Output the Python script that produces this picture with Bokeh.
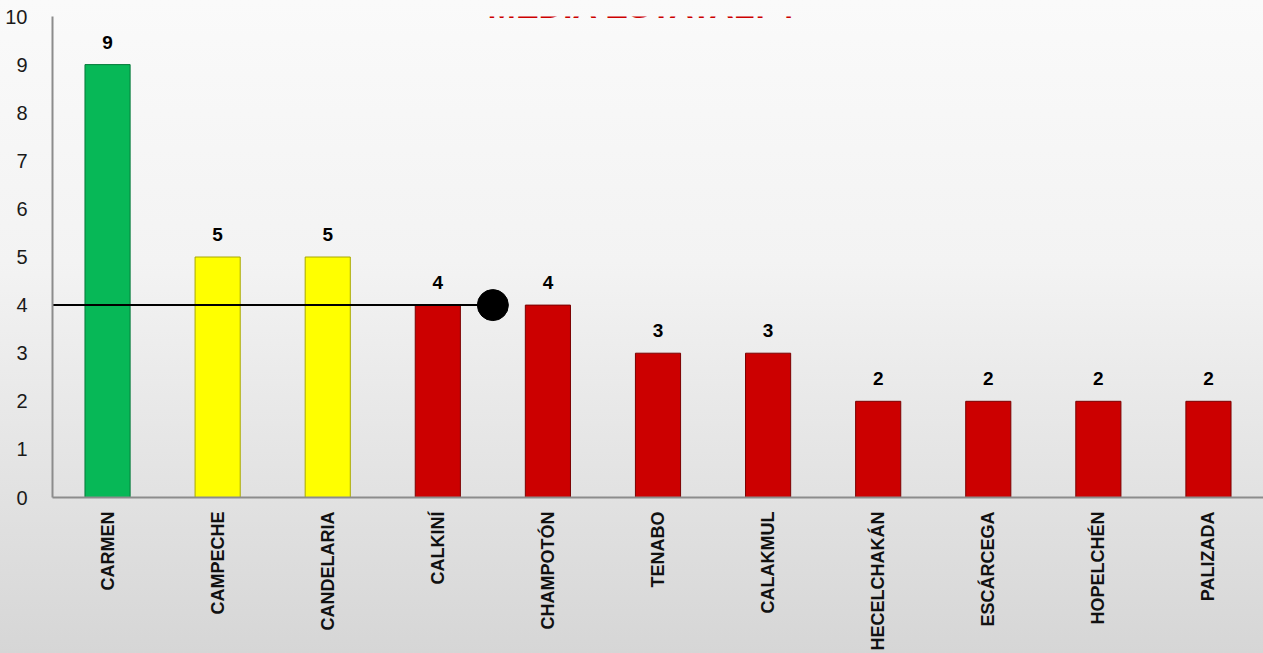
import math
from bokeh.plotting import figure
from bokeh.models import FactorRange, Range1d, Label, ColumnDataSource, FixedTicker
from bokeh.embed import file_html
from bokeh.resources import INLINE
from bokeh.core.properties import value

# ---- data ----
municipios = ["CARMEN", "CAMPECHE", "CANDELARIA", "CALKINÍ", "CHAMPOTÓN", "TENABO",
              "CALAKMUL", "HECELCHAKÁN", "ESCÁRCEGA", "HOPELCHÉN", "PALIZADA"]
valores = [9, 5, 5, 4, 4, 3, 3, 2, 2, 2, 2]
colores = ["#07b857", "#ffff00", "#ffff00", "#cc0000", "#cc0000", "#cc0000",
           "#cc0000", "#cc0000", "#cc0000", "#cc0000", "#cc0000"]
bordes = ["#057a3a", "#a8a800", "#a8a800", "#7a0000", "#7a0000", "#7a0000",
          "#7a0000", "#7a0000", "#7a0000", "#7a0000", "#7a0000"]
media_estatal = 4
titulo = "MEDIA ESTATAL: 4"
y_ticks = [0, 1, 2, 3, 4, 5, 6, 7, 8, 9, 10]

FONT = "Liberation Sans"

src = ColumnDataSource(dict(
    municipio=municipios,
    valor=valores,
    etiqueta=[str(v) for v in valores],
    color=colores,
    borde=bordes,
))

p = figure(
    x_range=FactorRange(factors=municipios, range_padding=0),
    y_range=Range1d(0, 10),
    width=1263, height=653,
    output_backend="svg", toolbar_location=None,
    min_border_left=52, min_border_right=0, min_border_top=16, min_border_bottom=156,
    background_fill_alpha=0, border_fill_alpha=0, outline_line_color=None,
)
p.styles = {"background": "linear-gradient(#fafafa 0%, #f3f3f3 40%, #d6d6d6 100%)"}

p.vbar(x="municipio", top="valor", width=0.41, source=src,
       fill_color="color", line_color="borde", line_width=1)

p.text(x="municipio", y="valor", text="etiqueta", source=src,
       y_offset=-16, text_align="center", text_baseline="bottom",
       text_font=value(FONT), text_font_style="bold", text_font_size="19px",
       text_color="#000000")

# media estatal line with marker
p.line(x=[(municipios[0], -0.5), (municipios[3], 0.5)],
       y=[media_estatal, media_estatal], line_color="black", line_width=2)
p.scatter(x=[(municipios[3], 0.5)], y=[media_estatal], size=31,
          fill_color="black", line_color="black")

p.grid.visible = False

p.xaxis.major_label_orientation = math.pi / 2
p.xaxis.major_label_text_font = FONT
p.xaxis.major_label_text_font_style = "bold"
p.xaxis.major_label_text_font_size = "18px"
p.xaxis.major_label_text_color = "#111111"
p.xaxis.major_label_standoff = 8
p.xaxis.major_tick_line_color = None
p.xaxis.minor_tick_line_color = None
p.xaxis.axis_line_color = "#8c8c8c"
p.xaxis.axis_line_width = 2

p.yaxis.ticker = FixedTicker(ticks=y_ticks)
p.yaxis.major_label_text_font = FONT
p.yaxis.major_label_text_font_size = "20px"
p.yaxis.major_label_text_color = "#1a1a1a"
p.yaxis.major_label_standoff = 19
p.yaxis.major_tick_line_color = None
p.yaxis.minor_tick_line_color = None
p.yaxis.axis_line_color = "#8c8c8c"
p.yaxis.axis_line_width = 2

p.add_layout(Label(x=641, y=5, x_units="canvas", y_units="canvas", text=titulo,
                   text_align="center", text_baseline="alphabetic",
                   text_color="#cc0000", text_font=FONT, text_font_style="bold",
                   text_font_size="34px"))

open("out.html", "w").write(file_html(p, INLINE))
